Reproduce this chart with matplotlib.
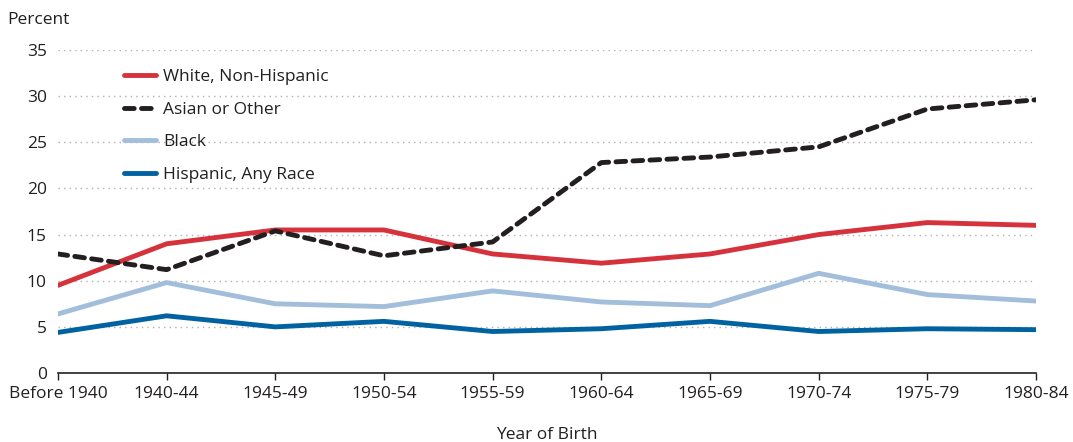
import matplotlib
matplotlib.use("Agg")

import matplotlib.pyplot as plt

plt.rcParams['font.family'] = ['Open Sans', 'DejaVu Sans']

# Data
cohorts = ["Before 1940", "1940-44", "1945-49", "1950-54", "1955-59",
           "1960-64", "1965-69", "1970-74", "1975-79", "1980-84"]
white = [9.5, 14.0, 15.5, 15.5, 12.9, 11.9, 12.9, 15.0, 16.3, 16.0]
asian = [12.9, 11.2, 15.4, 12.7, 14.2, 22.8, 23.4, 24.5, 28.6, 29.6]
black = [6.4, 9.8, 7.5, 7.2, 8.9, 7.7, 7.3, 10.8, 8.5, 7.8]
hispanic = [4.4, 6.2, 5.0, 5.6, 4.5, 4.8, 5.6, 4.5, 4.8, 4.7]
yticks = [0, 5, 10, 15, 20, 25, 30, 35]

fig = plt.figure(figsize=(10.73, 4.42), dpi=100)
ax = fig.add_axes([0.054, 0.156, 0.9115, 0.731])

x = list(range(len(cohorts)))

ax.plot(x, white, color="#d6323c", lw=3.5, solid_capstyle="round",
        label="White, Non-Hispanic", zorder=3)
ax.plot(x, asian, color="#231f20", lw=3.5, dashes=(2.0, 1.5),
        dash_capstyle="round", label="Asian or Other", zorder=4)
ax.plot(x, black, color="#a3bedb", lw=3.5, solid_capstyle="round",
        label="Black", zorder=3)
ax.plot(x, hispanic, color="#0062a1", lw=3.5, solid_capstyle="round",
        label="Hispanic, Any Race", zorder=3)

ax.set_xlim(0, len(cohorts) - 1)
ax.set_ylim(0, 35)
ax.set_xticks(x)
ax.set_xticklabels(cohorts, fontsize=12.5, color="#231f20")
ax.set_yticks(yticks)
ax.set_yticklabels([str(v) for v in yticks], fontsize=12.5, color="#231f20")

for s in ["left", "right", "top"]:
    ax.spines[s].set_visible(False)
ax.spines["bottom"].set_color("#231f20")
ax.spines["bottom"].set_linewidth(1.2)
ax.tick_params(axis="y", length=0, pad=8)
ax.tick_params(axis="x", length=5, width=1.0, color="#231f20", pad=4)

for v in yticks[1:]:
    ax.axhline(v, color="#b0b0b0", lw=1.0, ls=(0, (1, 3)), zorder=1)

ax.set_xlabel("Year of Birth", fontsize=12.5, color="#231f20", labelpad=18)
fig.text(0.007, 0.955, "Percent", fontsize=12.5, color="#231f20",
         ha="left", va="center")

leg = ax.legend(loc="upper left", bbox_to_anchor=(0.052, 0.99), frameon=False,
                fontsize=12.5, handlelength=1.8, labelspacing=0.95,
                handletextpad=0.45)
for t in leg.get_texts():
    t.set_color("#231f20")

fig.savefig("out.png", dpi=100)
